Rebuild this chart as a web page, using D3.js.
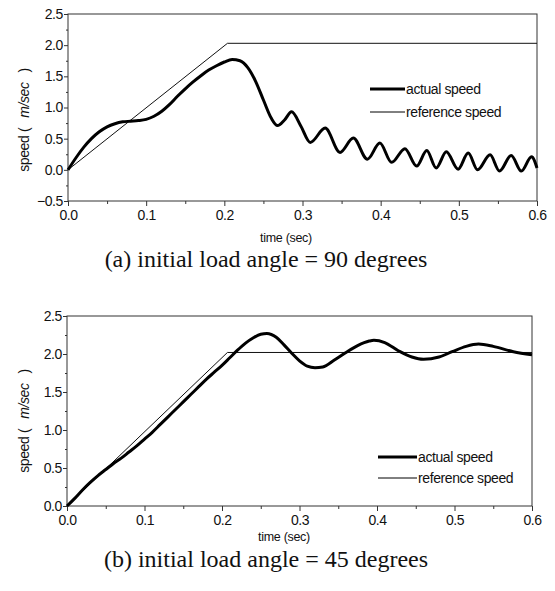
<!DOCTYPE html>
<html>
<head>
<meta charset="utf-8">
<script src="https://cdn.jsdelivr.net/npm/d3@7"></script>
<style>
  body { margin: 0; background: #fff; }
  svg { display: block; }
  .lbl { font-family: "Liberation Sans", Arial, sans-serif; fill: #111; }
  .cap { font-family: "Liberation Serif", "Times New Roman", serif; font-size: 24px; fill: #111; }
</style>
</head>
<body>
<div id="chart"></div>
<script>
// datos (a) angulo inicial 90 grados
var timeA = [0, 0.01, 0.02, 0.03, 0.04, 0.05, 0.06, 0.07, 0.08, 0.09, 0.1, 0.11, 0.12, 0.13, 0.14, 0.15, 0.16, 0.17, 0.18, 0.19, 0.2, 0.21, 0.22, 0.23, 0.24, 0.25, 0.26, 0.268, 0.277, 0.286, 0.298, 0.31, 0.329, 0.348, 0.365, 0.383, 0.399, 0.414, 0.431, 0.446, 0.459, 0.471, 0.484, 0.499, 0.512, 0.524, 0.54, 0.552, 0.567, 0.58, 0.593, 0.6];
var speedA = [0, 0.19, 0.36, 0.5, 0.61, 0.69, 0.74, 0.77, 0.78, 0.79, 0.81, 0.86, 0.94, 1.05, 1.18, 1.3, 1.41, 1.51, 1.6, 1.67, 1.73, 1.77, 1.75, 1.64, 1.42, 1.12, 0.83, 0.71, 0.8, 0.93, 0.7, 0.44, 0.67, 0.28, 0.51, 0.17, 0.43, 0.12, 0.34, 0.06, 0.31, 0.03, 0.29, 0.01, 0.27, 0.0, 0.24, -0.02, 0.23, -0.02, 0.21, 0.03];
var refTimeA = [0, 0.204, 0.6];
var refSpeedA = [0, 2.03, 2.03];

// datos de la figura (b) angulo inicial 45 grados
var timeB = [0, 0.01, 0.02, 0.03, 0.04, 0.05, 0.06, 0.07, 0.08, 0.09, 0.1, 0.11, 0.12, 0.13, 0.14, 0.15, 0.16, 0.17, 0.18, 0.19, 0.2, 0.21, 0.22, 0.23, 0.24, 0.25, 0.258, 0.27, 0.28, 0.29, 0.3, 0.31, 0.32, 0.33, 0.345, 0.36, 0.375, 0.39, 0.396, 0.41, 0.428, 0.445, 0.46, 0.48, 0.497, 0.515, 0.531, 0.55, 0.576, 0.6];
var speedB = [0, 0.1, 0.21, 0.31, 0.4, 0.48, 0.56, 0.63, 0.71, 0.79, 0.88, 0.97, 1.07, 1.17, 1.27, 1.37, 1.47, 1.57, 1.67, 1.76, 1.85, 1.95, 2.05, 2.14, 2.21, 2.26, 2.27, 2.22, 2.12, 2.01, 1.91, 1.84, 1.82, 1.83, 1.92, 2.02, 2.11, 2.17, 2.18, 2.15, 2.04, 1.96, 1.93, 1.96, 2.03, 2.1, 2.13, 2.1, 2.03, 1.99];
var refTimeB = [0, 0.207, 0.6];
var refSpeedB = [0, 2.02, 2.02];

var xTicks = [0, 0.1, 0.2, 0.3, 0.4, 0.5, 0.6];
var yTicksA = [-0.5, 0, 0.5, 1, 1.5, 2, 2.5];
var yTicksB = [0, 0.5, 1, 1.5, 2, 2.5];
var legendNames = ["actual speed", "reference speed"];
var captions = ["(a) initial load angle = 90 degrees", "(b) initial load angle = 45 degrees"];

var svg = d3.select("#chart").append("svg")
    .attr("width", 555)
    .attr("height", 591);

function styleTicks(s) {
  s.select(".domain").remove();
  s.selectAll(".tick line").attr("stroke", "#333");
  s.selectAll(".tick text")
    .attr("font-family", "Liberation Sans, Arial, sans-serif")
    .attr("font-size", 14)
    .attr("letter-spacing", "-0.4px")
    .attr("fill", "#111");
}

function panel(p) {
  var x = d3.scaleLinear().domain([0, 0.6]).range([p.left, p.right]);
  var y = d3.scaleLinear().domain(p.yDomain).range([p.bottom, p.top]);
  var g = svg.append("g");

  // marco
  g.append("rect")
    .attr("x", p.left).attr("y", p.top)
    .attr("width", p.right - p.left).attr("height", p.bottom - p.top)
    .attr("fill", "none").attr("stroke", "#333").attr("stroke-width", 1);

  // ticks menores
  var xMinor = d3.range(0.05, 0.6, 0.1);
  g.append("g").attr("transform", "translate(0," + p.bottom + ")")
    .call(d3.axisBottom(x).tickValues(xMinor).tickSize(3).tickFormat(""))
    .call(styleTicks);
  var yMinor = d3.range(p.yDomain[0] + 0.25, p.yDomain[1], 0.5);
  g.append("g").attr("transform", "translate(" + p.left + ",0)")
    .call(d3.axisLeft(y).tickValues(yMinor).tickSize(2).tickFormat(""))
    .call(styleTicks);

  // ejes principales
  g.append("g").attr("transform", "translate(0," + p.bottom + ")")
    .call(d3.axisBottom(x).tickValues(xTicks).tickSize(5).tickPadding(4).tickFormat(d3.format(".1f")))
    .call(styleTicks);
  g.append("g").attr("transform", "translate(" + p.left + ",0)")
    .call(d3.axisLeft(y).tickValues(p.yTicks).tickSize(4).tickPadding(1).tickFormat(d3.format(".1f")))
    .call(styleTicks);

  var line = d3.line()
    .x(function(d) { return x(d[0]); })
    .y(function(d) { return y(d[1]); });

  g.append("path")
    .datum(d3.zip(p.refT, p.refV))
    .attr("fill", "none").attr("stroke", "#111").attr("stroke-width", 1)
    .attr("d", line);

  g.append("path")
    .datum(d3.zip(p.t, p.v))
    .attr("fill", "none").attr("stroke", "#000").attr("stroke-width", 3)
    .attr("stroke-linejoin", "round")
    .attr("d", line.curve(d3.curveMonotoneX));

  // leyenda
  var lg = g.append("g");
  legendNames.forEach(function(name, i) {
    var ly = p.legY[i];
    lg.append("line")
      .attr("x1", p.legX[0]).attr("x2", p.legX[1])
      .attr("y1", ly).attr("y2", ly)
      .attr("stroke", "#000").attr("stroke-width", i == 0 ? 3 : 1);
    lg.append("text").attr("class", "lbl")
      .attr("x", p.legX[1] + 1).attr("y", ly + 5)
      .style("font-size", "14px").style("letter-spacing", "-0.4px")
      .text(name);
  });

  // titulo eje x
  g.append("text").attr("class", "lbl")
    .attr("x", p.xLabelX).attr("y", p.xLabelY)
    .attr("text-anchor", "middle")
    .style("font-size", "12.5px").style("letter-spacing", "-0.3px")
    .text("time (sec)");

  // titulo eje y
  var yl = g.append("text").attr("class", "lbl")
    .attr("transform", "translate(" + p.yLabelX + "," + p.yLabelY + ") rotate(-90)")
    .attr("text-anchor", "middle")
    .style("font-size", "14px").style("letter-spacing", "-0.4px");
  yl.append("tspan").text("speed (");
  yl.append("tspan").attr("dx", 10).style("font-style", "italic").text("m/sec");
  yl.append("tspan").attr("dx", 10).text(")");

  svg.append("text").attr("class", "cap")
    .attr("x", 266).attr("y", p.capY)
    .attr("text-anchor", "middle")
    .text(p.caption);
}

panel({
  left: 68, right: 537, top: 14, bottom: 201,
  yDomain: [-0.5, 2.5], yTicks: yTicksA,
  t: timeA, v: speedA, refT: refTimeA, refV: refSpeedA,
  legX: [370, 405], legY: [89, 112],
  xLabelX: 286, xLabelY: 242,
  yLabelX: 29, yLabelY: 120,
  capY: 267, caption: captions[0]
});

panel({
  left: 67, right: 532, top: 316, bottom: 506,
  yDomain: [0, 2.5], yTicks: yTicksB,
  t: timeB, v: speedB, refT: refTimeB, refV: refSpeedB,
  legX: [378, 417], legY: [457, 478],
  xLabelX: 284, xLabelY: 541,
  yLabelX: 29, yLabelY: 421,
  capY: 567, caption: captions[1]
});
</script>
</body>
</html>
